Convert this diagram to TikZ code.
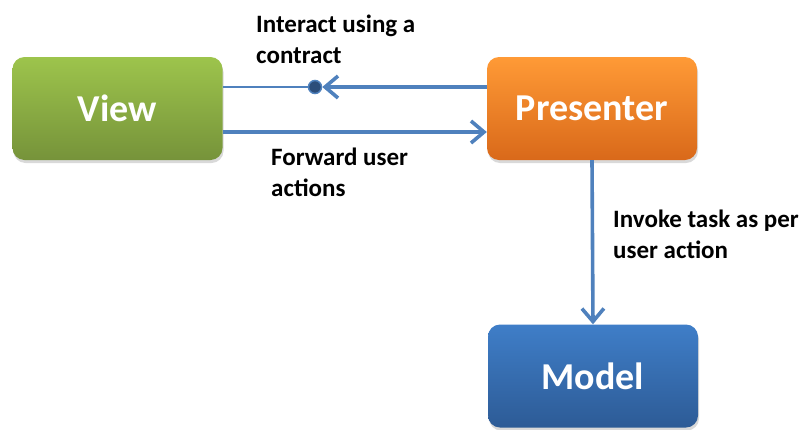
\documentclass[tikz,border=0pt]{standalone}
\usepackage{fontspec}
\setmainfont{Carlito}
\usetikzlibrary{arrows.meta,shadows}
\definecolor{linkblue}{HTML}{4F81BD}
\definecolor{viewtop}{HTML}{9DC44C}
\definecolor{viewbot}{HTML}{76933A}
\definecolor{prestop}{HTML}{FF9A36}
\definecolor{presbot}{HTML}{D9691A}
\definecolor{modeltop}{HTML}{3F7EC8}
\definecolor{modelbot}{HTML}{2D5B96}
\definecolor{dotblue}{HTML}{2C4D7A}
\tikzset{
  block/.style={rounded corners=12pt, minimum width=210pt, minimum height=103pt,
    text=white, font=\bfseries\fontsize{38}{44}\selectfont,
    drop shadow={shadow xshift=1pt, shadow yshift=-3pt, opacity=0.3}},
  note/.style={align=left, anchor=west, inner sep=0pt,
    font=\bfseries\fontsize{25}{31}\selectfont},
  link/.style={draw=linkblue, line width=3.6pt},
  tip/.style={-{Straight Barb[length=13pt, width=22pt]}}
}
\begin{document}
\begin{tikzpicture}[x=1pt, y=1pt]
\useasboundingbox (0,0) rectangle (809,-429);
\node[block, top color=viewtop, bottom color=viewbot] (view) at (117.5,-108.5) {View};
\node[block, top color=prestop, bottom color=presbot] (presenter) at (592,-108.5) {Presenter};
\node[block, top color=modeltop, bottom color=modelbot] (model) at (593,-376) {Model};
\node[circle, fill=dotblue, draw=linkblue, line width=1.5pt, inner sep=0pt, minimum size=13pt] (contract) at (315,-87) {};
\node[note] (contractlabel) at (256,-39) {Interact using a\\contract};
\node[note] (forwardlabel) at (271,-172) {Forward user\\actions};
\node[note] (invokelabel) at (613,-234) {Invoke task as per\\user action};
\draw[link, line width=2.3pt] ([yshift=21.5pt]view.east) -- (contract);
\draw[link, tip] ([yshift=21.5pt]presenter.west) -- (contract.east);
\draw[link, tip] ([yshift=-23.5pt]view.east) -- ([yshift=-23.5pt]presenter.west);
\draw[link, tip] (presenter.south) -- (model.north);
\end{tikzpicture}
\end{document}
